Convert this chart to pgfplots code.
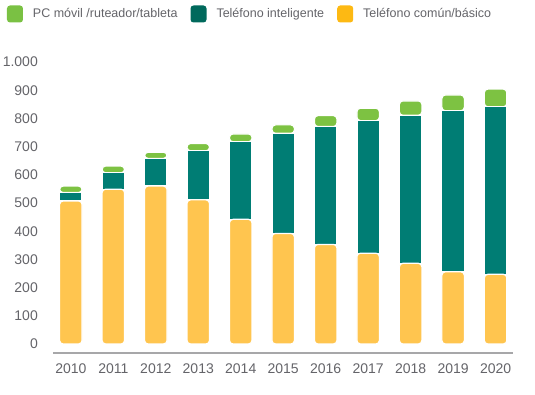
\documentclass[border=0pt]{standalone}
\usepackage{pgfplots}
\pgfplotsset{compat=1.18}
\usepackage{pgfplotstable}
\usepackage{fontspec}
\setmainfont{Liberation Sans}
\definecolor{cyellow}{HTML}{FFC54F}
\definecolor{cteal}{HTML}{007D74}
\definecolor{cgreen}{HTML}{7DC242}
\definecolor{lyellow}{HTML}{FDB913}
\definecolor{lteal}{HTML}{00695C}
\definecolor{lgreen}{HTML}{7AC143}
\definecolor{axgray}{HTML}{A7A7A9}
\definecolor{txtgray}{HTML}{646469}

\pgfplotstableread{
x basic smart pc
0 507 30 23
1 549 58 24
2 560 98 22
3 511 174 26
4 442 275 28
5 392 355 30
6 353 418 39
7 322 470 44
8 286 525 51
9 256 571 56
10 247 594 63
}\datatable

\begin{document}
\begin{tikzpicture}
\path[use as bounding box] (-53pt,-41pt) rectangle (482pt,353pt);
\begin{axis}[
  scale only axis, width=460pt, height=291pt,
  xmin=-0.42, xmax=10.41, ymin=-32, ymax=1000,
  enlargelimits=false,
  ybar stacked, bar width=22.5pt,
  axis x line*=bottom, axis y line*=left,
  x axis line style={draw=axgray, line width=2pt},
  y axis line style={draw=none},
  major tick length=0pt,
  xtick={0,1,2,3,4,5,6,7,8,9,10},
  xticklabels={2010,2011,2012,2013,2014,2015,2016,2017,2018,2019,2020},
  ytick={0,100,200,300,400,500,600,700,800,900,1000},
  scaled y ticks=false,
  /pgf/number format/assume math mode=true,
  /pgf/number format/1000 sep={.},
  tick label style={font=\fontsize{14}{16}\selectfont, text=txtgray},
  yticklabel style={inner sep=0pt, anchor=east, xshift=-15pt},
  xticklabel style={inner sep=0pt, anchor=north, yshift=-11pt},
  clip=false,
  legend columns=3,
  legend image code/.code={\fill[#1, rounded corners=3pt] (0pt,-8.5pt) rectangle (16pt,8.5pt); \path (26pt,0pt);},
  legend style={at={(0,1)}, anchor=west, xshift=-46pt, yshift=48pt, draw=none, fill=none,
    inner sep=0pt, outer sep=0pt, font=\fontsize{12.5}{15}\selectfont, text=txtgray,
    nodes={inner sep=0pt},
    /tikz/every even column/.append style={column sep=13pt}},
]
\addplot[fill=cyellow, draw=white, line width=1.2pt, rounded corners=3.5pt, forget plot] table[x=x,y=basic]{\datatable};
\addplot[fill=cteal, draw=white, line width=1.2pt, forget plot] table[x=x,y=smart]{\datatable};
\addplot[fill=cgreen, draw=white, line width=1.2pt, rounded corners=3.5pt, forget plot] table[x=x,y=pc]{\datatable};
\addlegendimage{fill=lgreen, draw=none}
\addlegendentry{PC móvil /ruteador/tableta}
\addlegendimage{fill=lteal, draw=none}
\addlegendentry{Teléfono inteligente}
\addlegendimage{fill=lyellow, draw=none}
\addlegendentry{Teléfono común/básico}
\end{axis}
\end{tikzpicture}
\end{document}
